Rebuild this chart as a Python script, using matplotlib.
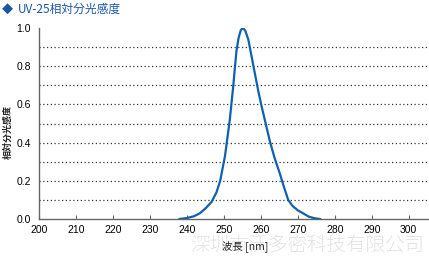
import matplotlib
matplotlib.use('Agg')
import matplotlib.pyplot as plt
import numpy as np

# spectral sensitivity
wavelength = [238, 240, 242, 243.5, 245, 246.7, 248, 249, 250.3, 251.6, 252.5,
              253.4, 254, 254.6, 255.2, 255.8, 256.6, 257.5, 258.4, 259.3,
              260.2, 261.3, 262.4, 263.7, 265.1, 266.2, 267.4, 268.5, 270,
              271.4, 273, 274.5, 276]
sensitivity = [0.0, 0.005, 0.015, 0.03, 0.055, 0.09, 0.14, 0.20, 0.33, 0.52, 0.69,
               0.88, 0.95, 0.99, 1.0, 0.985, 0.94, 0.85, 0.76, 0.67,
               0.59, 0.50, 0.41, 0.32, 0.24, 0.17, 0.10, 0.07, 0.045,
               0.03, 0.012, 0.004, 0.0]
xticks = [200, 210, 220, 230, 240, 250, 260, 270, 280, 290, 300]
yticks = [0.0, 0.2, 0.4, 0.6, 0.8, 1.0]

jp = ['Noto Sans CJK JP', 'DejaVu Sans']
num = ['Liberation Sans', 'DejaVu Sans']

W, H = 429, 257
fig = plt.figure(figsize=(W / 100, H / 100), dpi=100)
ax = fig.add_axes([39 / W, 1 - 219 / H, (428 - 39) / W, 191 / H])

ax.plot(wavelength, sensitivity, color='#1060b0', lw=1.6, zorder=3)

ax.set_xlim(200, 305.2)
ax.set_ylim(0, 1.0)
ax.set_xticks(xticks)
ax.set_yticks(yticks)
ax.set_yticklabels(['%.1f' % v for v in yticks], family=num, fontsize=7.5)
ax.set_xticklabels([str(v) for v in xticks], family=num, fontsize=7.5)
ax.tick_params(axis='x', direction='in', length=3, color='#666666', pad=4)
ax.tick_params(axis='y', length=0, pad=6)

for g in np.arange(0.1, 0.95, 0.1):
    ax.axhline(g, color='#333333', lw=0.9, ls=(0, (1, 2)), zorder=1)

for s in ['top', 'right']:
    ax.spines[s].set_visible(False)
for s in ['left', 'bottom']:
    ax.spines[s].set_color('#666666')
    ax.spines[s].set_linewidth(1.0)

# watermark
fig.text(190 / W, 1 - 246 / H, '深圳市沃多密科技有限公司', family=jp, fontsize=14,
         color='#e2e2e2', va='center', ha='left', zorder=0, fontweight='light')

fig.text(2 / W, 1 - 9 / H, '◆', family=jp, fontsize=8, color='#1a55a5',
         va='center', ha='left')
fig.text(18 / W, 1 - 9 / H, 'UV-25相対分光感度', family=jp, fontsize=8.5,
         color='#1a55a5', va='center', ha='left')
fig.text(8 / W, 1 - 132 / H, '相対分光感度', family=jp, fontsize=6.5, rotation=90,
         va='center', ha='center', color='#222222', fontweight='bold')
fig.text(245 / W, 1 - 246 / H, '波長 [nm]', family=jp, fontsize=7.5,
         va='center', ha='center', color='#222222')

fig.savefig('out.png', dpi=100)
